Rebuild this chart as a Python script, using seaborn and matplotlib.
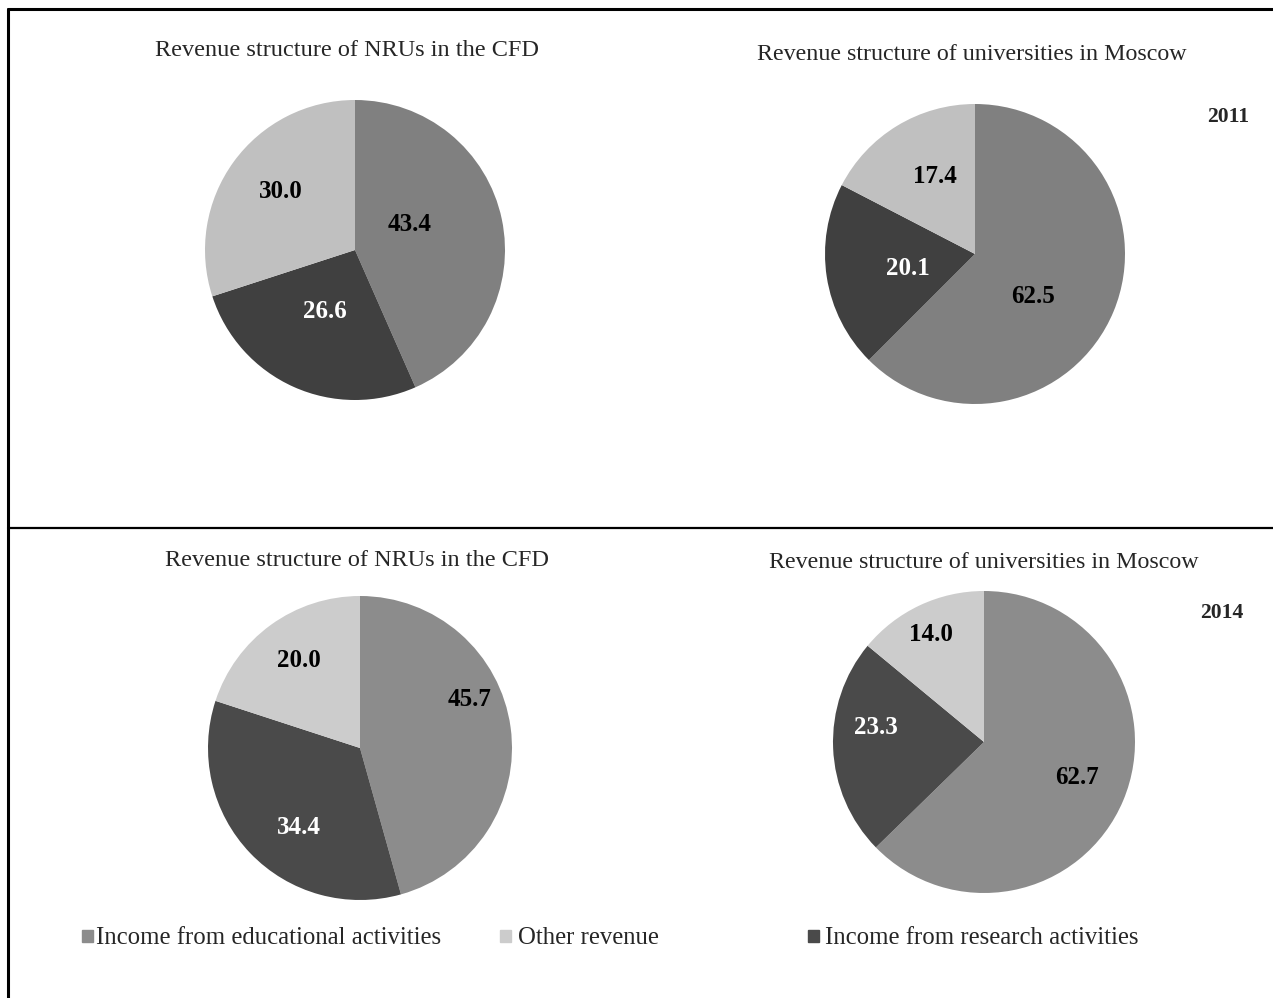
import numpy as np
import matplotlib
matplotlib.use("Agg")
import matplotlib.pyplot as plt
from matplotlib.patches import Rectangle
import seaborn as sns

# Revenue shares, %
categories = ["Income from educational activities", "Income from research activities", "Other revenue"]
nru_cfd_2011 = [43.4, 26.6, 30.0]
moscow_2011 = [62.5, 20.1, 17.4]
nru_cfd_2014 = [45.7, 34.4, 20.0]
moscow_2014 = [62.7, 23.3, 14.0]
titles = ["Revenue structure of NRUs in the CFD", "Revenue structure of universities in Moscow"]
years = ["2011", "2014"]

sns.set_theme(style="white")
plt.rcParams["font.family"] = ["Liberation Serif", "DejaVu Serif"]

W, H = 1273, 998
fig = plt.figure(figsize=(W / 100, H / 100), dpi=100)

colors_top = ["#808080", "#404040", "#c0c0c0"]
colors_bot = ["#8c8c8c", "#4a4a4a", "#cccccc"]
label_colors = ["black", "white", "black"]


def px_axes(cx, cy, r):
    return fig.add_axes([(cx - r) / W, 1 - (cy + r) / H, 2 * r / W, 2 * r / H])


panels = [
    # centre x, centre y, radius, values, colours, label radius fractions, label angle shifts (deg)
    dict(c=(355, 250, 150), v=nru_cfd_2011, col=colors_top, lr=[0.40, 0.46, 0.63], ls=[-13, 2, 2]),
    dict(c=(975, 254, 150), v=moscow_2011, col=colors_top, lr=[0.48, 0.46, 0.58], ls=[14, -3, 4]),
    dict(c=(360, 748, 152), v=nru_cfd_2014, col=colors_bot, lr=[0.79, 0.66, 0.70], ls=[-16, -9, 1]),
    dict(c=(984, 742, 151), v=moscow_2014, col=colors_bot, lr=[0.66, 0.72, 0.79], ls=[-2, 10, -1]),
]

for p in panels:
    cx, cy, r = p["c"]
    ax = px_axes(cx, cy, r)
    wedges, _ = ax.pie(p["v"], colors=p["col"], startangle=90, counterclock=False,
                       radius=1.0, wedgeprops=dict(linewidth=0))
    ax.set_xlim(-1, 1)
    ax.set_ylim(-1, 1)
    ax.set_aspect("equal")
    ax.axis("off")
    for i, w in enumerate(wedges):
        mid = np.deg2rad((w.theta1 + w.theta2) / 2 - p["ls"][i])
        rr = p["lr"][i]
        ax.text(rr * np.cos(mid), rr * np.sin(mid), f"{p['v'][i]:.1f}",
                ha="center", va="center", fontsize=18, fontweight="bold",
                color=label_colors[i])

# Titles and years
fig.text(347 / W, 1 - 51 / H, titles[0], ha="center", va="center", fontsize=17.5)
fig.text(972 / W, 1 - 55 / H, titles[1], ha="center", va="center", fontsize=17.3)
fig.text(357 / W, 1 - 561 / H, titles[0], ha="center", va="center", fontsize=17.5)
fig.text(984 / W, 1 - 563 / H, titles[1], ha="center", va="center", fontsize=17.3)
fig.text(1228 / W, 1 - 117 / H, years[0], ha="center", va="center", fontsize=15.6, fontweight="bold")
fig.text(1222 / W, 1 - 613 / H, years[1], ha="center", va="center", fontsize=15.6, fontweight="bold")

# Legend entries
legend_items = [(0, 82, 96), (2, 500, 518), (1, 808, 825)]
for idx, x0, xt in legend_items:
    fig.patches.append(Rectangle((x0 / W, 1 - 942 / H), 11 / W, 12 / H,
                                 transform=fig.transFigure, color=colors_bot[idx]))
    fig.text(xt / W, 1 - 938 / H, categories[idx], ha="left", va="center", fontsize=17.8)

# Frame lines
line_kw = dict(transform=fig.transFigure, color="black")
fig.add_artist(plt.Line2D([8 / W, 1], [1 - 9 / H, 1 - 9 / H], linewidth=2.2, **line_kw))
fig.add_artist(plt.Line2D([8 / W, 8 / W], [1 - 9 / H, 0], linewidth=2.2, **line_kw))
fig.add_artist(plt.Line2D([8 / W, 1], [1 - 528 / H, 1 - 528 / H], linewidth=1.6, **line_kw))

fig.savefig("out.png", dpi=100, facecolor="white")
